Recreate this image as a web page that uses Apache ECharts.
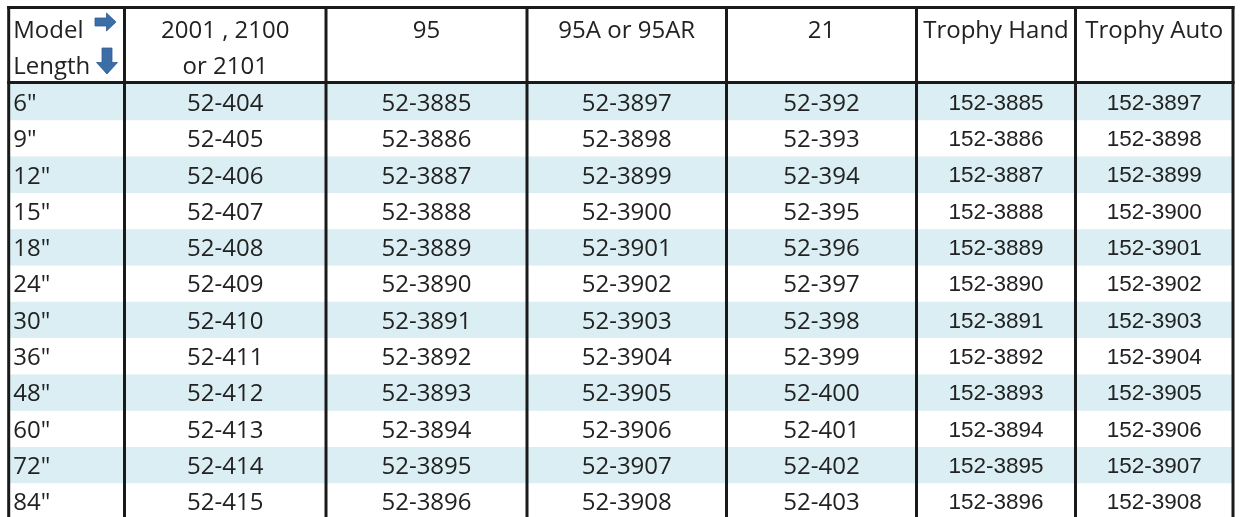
<!DOCTYPE html>
<html>
<head>
<meta charset="utf-8">
<script src="https://cdn.jsdelivr.net/npm/echarts@6/dist/echarts.min.js"></script>
<style>
html,body{margin:0;padding:0;background:#fff;}
#chart{width:1241px;height:517px;}
</style>
</head>
<body>
<div id="chart"></div>
<script>
// ---- data ----
const cornerTop = 'Model';
const cornerBottom = 'Length';
const models = ['2001 , 2100\nor 2101', '95', '95A or 95AR', '21', 'Trophy Hand', 'Trophy Auto'];
const lengths = ['6"', '9"', '12"', '15"', '18"', '24"', '30"', '36"', '48"', '60"', '72"', '84"'];
const model2001 = ['52-404', '52-405', '52-406', '52-407', '52-408', '52-409', '52-410', '52-411', '52-412', '52-413', '52-414', '52-415'];
const model95 = ['52-3885', '52-3886', '52-3887', '52-3888', '52-3889', '52-3890', '52-3891', '52-3892', '52-3893', '52-3894', '52-3895', '52-3896'];
const model95A = ['52-3897', '52-3898', '52-3899', '52-3900', '52-3901', '52-3902', '52-3903', '52-3904', '52-3905', '52-3906', '52-3907', '52-3908'];
const model21 = ['52-392', '52-393', '52-394', '52-395', '52-396', '52-397', '52-398', '52-399', '52-400', '52-401', '52-402', '52-403'];
const trophyHand = ['152-3885', '152-3886', '152-3887', '152-3888', '152-3889', '152-3890', '152-3891', '152-3892', '152-3893', '152-3894', '152-3895', '152-3896'];
const trophyAuto = ['152-3897', '152-3898', '152-3899', '152-3900', '152-3901', '152-3902', '152-3903', '152-3904', '152-3905', '152-3906', '152-3907', '152-3908'];

// ---- layout (axis units) ----
const colEdges = [8.7, 124.5, 326, 527, 726.5, 916.5, 1075.5, 1233];
const headerTop = 7.5, headerBottom = 82.5, rowTop = 84, rowH = 36.3;
const line1Y = 31, line2Y = 67;

const columns = [lengths, model2001, model95, model95A, model21, trophyHand, trophyAuto];
const TEXT = '#222222', BAND = '#DAEEF3', LINE = '#1a1a1a', ARROW = '#3b6ea7';
const calib = '"Open Sans", "Noto Sans", sans-serif';
const arial = '"Liberation Sans", Arial, sans-serif';

// body cells
const cellData = [];
columns.forEach((col, c) => col.forEach((t, r) => cellData.push([c, r, t])));
// header cells
const headData = [[0, 0, cornerTop + '\n' + cornerBottom]];
models.forEach((m, i) => headData.push([i + 1, 0, m]));
const bandData = lengths.map((l, i) => [i]);
const vLineData = colEdges.map((x, i) => [i]);
const hLineData = [[headerTop], [headerBottom]];

const chart = echarts.init(document.getElementById('chart'), null, {renderer: 'canvas'});
chart.setOption({
  animation: false,
  backgroundColor: '#ffffff',
  grid: {left: 0, right: 0, top: 0, bottom: 0},
  xAxis: {type: 'value', min: 0, max: 1241, show: false},
  yAxis: {type: 'value', min: 0, max: 517, inverse: true, show: false},
  series: [
    {
      type: 'custom', z: 1, data: bandData,
      renderItem(params, api) {
        const i = api.value(0);
        if (i % 2 !== 0) return null;
        const p0 = api.coord([colEdges[0], rowTop + i * rowH]);
        const p1 = api.coord([colEdges[colEdges.length - 1], rowTop + (i + 1) * rowH]);
        return {type: 'rect', shape: {x: p0[0], y: p0[1], width: p1[0] - p0[0], height: p1[1] - p0[1]}, style: {fill: BAND}};
      }
    },
    {
      type: 'custom', z: 3, data: cellData,
      renderItem(params, api) {
        const c = api.value(0), r = api.value(1);
        const t = cellData[params.dataIndex][2];
        const trophy = c >= 5;
        const yMid = rowTop + (r + 0.5) * rowH + (trophy ? 1.5 : 2);
        let x, align;
        if (c === 0) { x = colEdges[0] + 4.5; align = 'left'; }
        else { x = (colEdges[c] + colEdges[c + 1]) / 2; align = 'center'; }
        const p = api.coord([x, yMid]);
        return {type: 'text', style: {text: t, x: p[0], y: p[1], fill: TEXT,
          fontFamily: trophy ? arial : calib, fontSize: trophy ? 22.5 : 24, align: align, verticalAlign: 'middle'}};
      }
    },
    {
      type: 'custom', z: 3, data: headData,
      renderItem(params, api) {
        const c = api.value(0);
        const lines = headData[params.dataIndex][2].split('\n');
        const children = [];
        let x, align;
        if (c === 0) { x = colEdges[0] + 4.5; align = 'left'; }
        else { x = (colEdges[c] + colEdges[c + 1]) / 2; align = 'center'; }
        lines.forEach((ln, k) => {
          const p = api.coord([x, k === 0 ? line1Y : line2Y]);
          children.push({type: 'text', style: {text: ln, x: p[0], y: p[1], fill: TEXT, fontFamily: calib, fontSize: 24, align: align, verticalAlign: 'middle'}});
        });
        if (c === 0) {
          // right arrow after "Model"
          const ra = [[95, 18], [106.5, 18], [106.5, 13], [116, 22], [106.5, 31], [106.5, 26], [95, 26]].map(q => api.coord(q));
          children.push({type: 'polygon', shape: {points: ra}, style: {fill: ARROW, stroke: '#2f5d92', lineWidth: 0.8}});
          // down arrow after "Length"
          const da = [[102, 48], [112, 48], [112, 62.5], [117.5, 62.5], [107, 74], [96.5, 62.5], [102, 62.5]].map(q => api.coord(q));
          children.push({type: 'polygon', shape: {points: da}, style: {fill: ARROW, stroke: '#2f5d92', lineWidth: 0.8}});
        }
        return {type: 'group', children: children};
      }
    },
    {
      type: 'custom', z: 5, data: vLineData,
      renderItem(params, api) {
        const i = api.value(0);
        const p0 = api.coord([colEdges[i], headerTop - 1.5]);
        const p1 = api.coord([colEdges[i], 530]);
        return {type: 'line', shape: {x1: p0[0], y1: p0[1], x2: p1[0], y2: p1[1]}, style: {stroke: LINE, lineWidth: 3}};
      }
    },
    {
      type: 'custom', z: 5, data: hLineData,
      renderItem(params, api) {
        const y = api.value(0);
        const p0 = api.coord([colEdges[0] - 1.5, y]);
        const p1 = api.coord([colEdges[colEdges.length - 1] + 1.5, y]);
        return {type: 'line', shape: {x1: p0[0], y1: p0[1], x2: p1[0], y2: p1[1]}, style: {stroke: LINE, lineWidth: 3}};
      }
    }
  ]
});
</script>
</body>
</html>
